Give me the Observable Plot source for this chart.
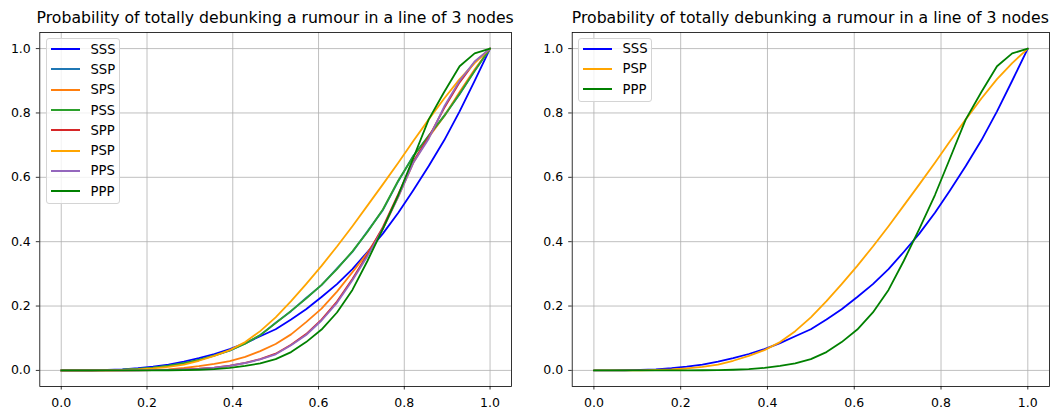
<!DOCTYPE html>
<html><head><meta charset="utf-8">
<script src="https://cdn.jsdelivr.net/npm/d3@7"></script>
<script src="https://cdn.jsdelivr.net/npm/@observablehq/plot@0.6"></script>
<style>
body{margin:0;background:#fff;font-family:"DejaVu Sans",sans-serif;}
#wrap{position:relative;width:1059px;height:412px;overflow:hidden;background:#fff;}
.panel{position:absolute;top:28px;}
.title{position:absolute;top:9.5px;font-size:15.7px;line-height:15.7px;text-align:center;white-space:nowrap;color:#000;}
.legend{position:absolute;box-sizing:border-box;border:1px solid #d4d4d4;border-radius:3px;background:rgba(255,255,255,0.8);padding:0 0 2px 3.5px;font-size:13.2px;color:#000;}
.row{display:flex;align-items:center;height:20.3px;}
.swatch{width:29px;height:2px;margin-right:11px;flex:none;}
</style></head><body><div id="wrap"></div>
<script>
// ---- data ----
const titleText = "Probability of totally debunking a rumour in a line of 3 nodes";
const tickValues = [0, 0.2, 0.4, 0.6, 0.8, 1.0];
const xs = [0, 0.036, 0.071, 0.107, 0.143, 0.179, 0.214, 0.25, 0.286, 0.321, 0.357, 0.393, 0.429, 0.464, 0.5, 0.536, 0.571, 0.607, 0.643, 0.679, 0.714, 0.75, 0.786, 0.821, 0.857, 0.893, 0.929, 0.964, 1];
const SSS = [0, 0.0001, 0.0005, 0.0015, 0.0035, 0.0068, 0.0115, 0.018, 0.027, 0.038, 0.051, 0.066, 0.085, 0.106, 0.128, 0.158, 0.19, 0.228, 0.268, 0.315, 0.368, 0.425, 0.49, 0.56, 0.635, 0.715, 0.805, 0.9, 1];
const SSP = [0, 0, 0.0002, 0.0008, 0.002, 0.0044, 0.0086, 0.0143, 0.0228, 0.0326, 0.0465, 0.0615, 0.0835, 0.109, 0.148, 0.184, 0.225, 0.265, 0.317, 0.368, 0.432, 0.498, 0.588, 0.667, 0.728, 0.792, 0.858, 0.931, 1];
const SPS = [0, 0, 0, 0.0001, 0.0003, 0.0008, 0.0018, 0.0035, 0.0075, 0.013, 0.02, 0.029, 0.042, 0.06, 0.082, 0.112, 0.15, 0.192, 0.245, 0.305, 0.365, 0.44, 0.54, 0.645, 0.725, 0.79, 0.865, 0.935, 1];
const PSS = [0, 0, 0.0002, 0.0008, 0.002, 0.0045, 0.0085, 0.0145, 0.0225, 0.033, 0.046, 0.062, 0.083, 0.11, 0.147, 0.185, 0.223, 0.266, 0.315, 0.37, 0.43, 0.5, 0.59, 0.665, 0.73, 0.79, 0.86, 0.93, 1];
const SPP = [0, 0, 0, 0, 0.0001, 0.0003, 0.0007, 0.0015, 0.0029, 0.0052, 0.0088, 0.0145, 0.0235, 0.035, 0.052, 0.08, 0.113, 0.158, 0.214, 0.284, 0.36, 0.445, 0.548, 0.65, 0.725, 0.815, 0.895, 0.958, 1];
const PSP = [0, 0, 0.0001, 0.0004, 0.0012, 0.003, 0.006, 0.011, 0.018, 0.03, 0.045, 0.063, 0.088, 0.122, 0.165, 0.215, 0.268, 0.325, 0.385, 0.448, 0.512, 0.578, 0.645, 0.713, 0.78, 0.845, 0.905, 0.955, 1];
const PPS = [0, 0, 0, 0, 0.0001, 0.0003, 0.0007, 0.0014, 0.0028, 0.005, 0.0085, 0.014, 0.023, 0.034, 0.05, 0.078, 0.11, 0.155, 0.21, 0.28, 0.355, 0.44, 0.54, 0.645, 0.72, 0.82, 0.9, 0.96, 1];
const PPP = [0, 0, 0, 0, 0, 0.0001, 0.0002, 0.0005, 0.001, 0.002, 0.004, 0.008, 0.014, 0.022, 0.035, 0.057, 0.088, 0.127, 0.18, 0.25, 0.34, 0.44, 0.545, 0.66, 0.78, 0.865, 0.945, 0.985, 1];
const leftSeries = ["SSS", "SSP", "SPS", "PSS", "SPP", "PSP", "PPS", "PPP"];
const rightSeries = ["SSS", "PSP", "PPP"];
const seriesColors = {SSS: "#0000ff", SSP: "#1f77b4", SPS: "#ff7f0e", PSS: "#2ca02c", SPP: "#d62728", PSP: "#ffa500", PPS: "#9467bd", PPP: "#008000"};

// ---- build ----
const values = {SSS, SSP, SPS, PSS, SPP, PSP, PPS, PPP};
const wrap = document.getElementById("wrap");
const fmt = d3.format(".1f");

function panel(names, cfg) {
  const rows = names.flatMap(n => xs.map((x, i) => ({x, y: values[n][i], s: n})));
  const chart = Plot.plot({
    width: cfg.width, height: 384,
    marginLeft: cfg.ml, marginRight: cfg.mr, marginTop: 4, marginBottom: 26,
    x: {domain: [-0.05, 1.05]},
    y: {domain: [-0.05, 1.05]},
    style: {fontFamily: "DejaVu Sans", fontSize: "12.5px", color: "#000", background: "transparent", overflow: "visible"},
    marks: [
      Plot.gridX(tickValues, {stroke: "#b0b0b0", strokeOpacity: 1, strokeWidth: 0.8}),
      Plot.gridY(tickValues, {stroke: "#b0b0b0", strokeOpacity: 1, strokeWidth: 0.8}),
      ...names.map(n => Plot.line(rows.filter(d => d.s === n), {x: "x", y: "y", stroke: seriesColors[n], strokeWidth: 1.8})),
      Plot.axisX(tickValues, {tickSize: 3.5, tickPadding: 8, tickFormat: fmt, strokeWidth: 0.8, label: null}),
      Plot.axisY(tickValues, {tickSize: 3.5, tickPadding: 5.5, tickFormat: fmt, strokeWidth: 0.8, label: null}),
      Plot.frame({stroke: "#000", strokeWidth: 0.8})
    ]
  });
  const holder = document.createElement("div");
  holder.className = "panel";
  holder.style.left = cfg.left + "px";
  holder.appendChild(chart);
  wrap.appendChild(holder);

  const t = document.createElement("div");
  t.className = "title";
  t.textContent = titleText;
  const frameLeft = cfg.left + cfg.ml, frameW = cfg.width - cfg.ml - cfg.mr;
  t.style.left = (frameLeft - 40) + "px";
  t.style.width = (frameW + 80) + "px";
  wrap.appendChild(t);

  const lg = document.createElement("div");
  lg.className = "legend";
  lg.style.left = cfg.lgLeft + "px";
  lg.style.top = cfg.lgTop + "px";
  lg.style.width = "74px";
  for (const n of names) {
    const r = document.createElement("div");
    r.className = "row";
    const sw = document.createElement("div");
    sw.className = "swatch";
    sw.style.background = seriesColors[n];
    const lab = document.createElement("span");
    lab.textContent = n;
    r.appendChild(sw); r.appendChild(lab);
    lg.appendChild(r);
  }
  wrap.appendChild(lg);
}

panel(leftSeries, {left: 0, width: 530, ml: 39.3, mr: 19, lgLeft: 46, lgTop: 38});
panel(rightSeries, {left: 540, width: 519, ml: 31.7, mr: 10, lgLeft: 578, lgTop: 37.5});
</script>
</body></html>
